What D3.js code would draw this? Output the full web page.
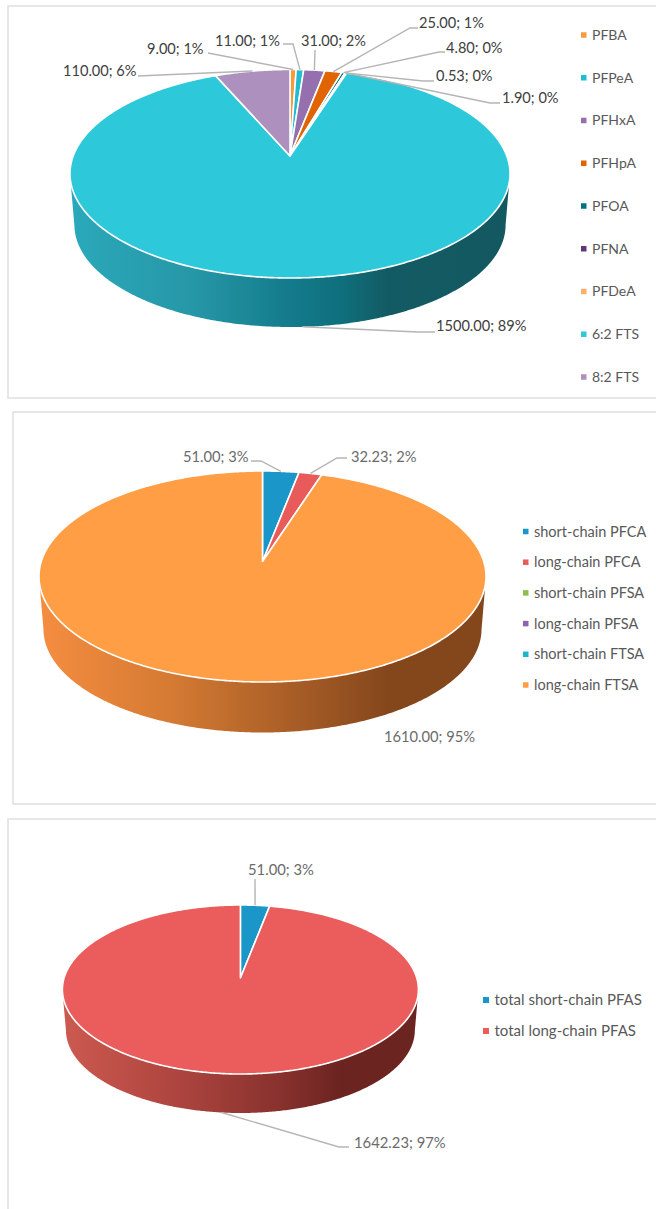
<!DOCTYPE html>
<html>
<head>
<meta charset="utf-8">
<script src="https://cdnjs.cloudflare.com/ajax/libs/d3/7.8.5/d3.min.js"></script>
<style>
    html, body { margin: 0; padding: 0; background: #fff; }
    svg { display: block; }
    text { font-family: Lato, "Open Sans", sans-serif; }
</style>
</head>
<body>
<div id="chart"></div>
<script>
// values
const compounds = ["PFBA", "PFPeA", "PFHxA", "PFHpA", "PFOA", "PFNA", "PFDeA", "6:2 FTS", "8:2 FTS"];
const compoundValues = [9, 11, 31, 25, 4.8, 0.53, 1.9, 1500, 110];
const groups = ["short-chain PFCA", "long-chain PFCA", "short-chain PFSA", "long-chain PFSA", "short-chain FTSA", "long-chain FTSA"];
const groupValues = [51, 32.23, 0, 0, 0, 1610];
const totals = ["total short-chain PFAS", "total long-chain PFAS"];
const totalValues = [51, 1642.23];

const compoundColors = ["#f79a3c", "#1fbcd2", "#9470ae", "#e06500", "#05707f", "#5c3a7a", "#ffb06e", "#2dc8da", "#ae90bf"];
const groupColors = ["#1b96c8", "#e95b5b", "#8fbc4b", "#8d63ae", "#1bb5cc", "#ff9e45"];
const totalColors = ["#1b96c8", "#eb5c5c"];

const width = 656, height = 1209;

// label text position + elbow of the leader line, by category
const charts = [
    {
        id: "a", names: compounds, values: compoundValues, colors: compoundColors,
        frame: {x: 8, y: 6, bottom: 398},
        cx: 290, rx: 220, top: 69.5, apex: 156, front: 278, lowerBottom: 327,
        rim: [[0, "#2aa9ba"], [0.28, "#2697a7"], [0.5, "#137b8b"], [0.62, "#0f6f7c"], [0.72, "#135b64"], [1, "#135860"]],
        labelColor: "#404040", labelSize: 14.6,
        labels: {
            "PFBA": {x: 147, y: 49, line: [[208, 53]]},
            "PFPeA": {x: 215, y: 41, line: [[293, 44], [283, 44]]},
            "PFHxA": {x: 301, y: 41, line: [[315, 50]]},
            "PFHpA": {x: 419, y: 23, line: [[410, 28], [418, 28]]},
            "PFOA": {x: 446, y: 48, line: [[439, 52], [445, 52]]},
            "PFNA": {x: 436, y: 76, line: [[423, 81], [434, 81]]},
            "PFDeA": {x: 502, y: 98, line: [[490, 103], [500, 103]]},
            "6:2 FTS": {x: 436, y: 326, line: [[418, 332], [435, 332]]},
            "8:2 FTS": {x: 63, y: 71, line: [[138, 76]]}
        },
        legend: {x: 581, y: 35, step: 42.75, size: 5.5, fontSize: 14}
    },
    {
        id: "b", names: groups, values: groupValues, colors: groupColors,
        frame: {x: 13, y: 412, bottom: 804},
        cx: 262.5, rx: 223.5, top: 471, apex: 561.5, front: 682, lowerBottom: 732.5,
        rim: [[0, "#f58d40"], [0.3, "#d47a33"], [0.6, "#a35a25"], [0.78, "#84471c"], [1, "#84471c"]],
        labelColor: "#6b6b6b", labelSize: 14.7,
        labels: {
            "short-chain PFCA": {x: 183, y: 457, line: [[261, 461], [251, 461]]},
            "long-chain PFCA": {x: 351, y: 457, line: [[337, 458], [347, 458]]},
            "long-chain FTSA": {x: 384, y: 737, line: null}
        },
        legend: {x: 523, y: 531.5, step: 30.7, size: 5.5, fontSize: 14.5}
    },
    {
        id: "c", names: totals, values: totalValues, colors: totalColors,
        frame: {x: 8, y: 819, bottom: null},
        cx: 240.4, rx: 178, top: 905, apex: 978, front: 1074, lowerBottom: 1113,
        rim: [[0, "#cc5a50"], [0.3, "#b04640"], [0.6, "#8a322e"], [0.78, "#6c2421"], [1, "#6c2421"]],
        labelColor: "#6b6b6b", labelSize: 14.8,
        labels: {
            "total short-chain PFAS": {x: 248, y: 870, line: [[255, 879]]},
            "total long-chain PFAS": {x: 354, y: 1143, line: [[339, 1147], [349, 1147]]}
        },
        legend: {x: 483, y: 1000, step: 31, size: 6, fontSize: 15}
    }
];

const svg = d3.select("#chart").append("svg")
    .attr("width", width)
    .attr("height", height);

const defs = svg.append("defs");

charts.forEach(drawChart);

function drawChart(c) {
    let g = svg.append("g").attr("class", "chart-" + c.id);

    // frame runs off the right side of the picture
    let right = width + 5,
        bottom = c.frame.bottom === null ? height + 5 : c.frame.bottom;
    g.append("rect")
        .attr("x", c.frame.x)
        .attr("y", c.frame.y)
        .attr("width", right - c.frame.x)
        .attr("height", bottom - c.frame.y)
        .attr("fill", "#fff")
        .attr("stroke", "#e2e2e2")
        .attr("stroke-width", 1.6);

    // circle seen in perspective: the centre of the pie sits above the middle of the ellipse
    let cy = (c.top + c.front) / 2,
        q = solvePerspective(c.top, c.apex, c.front);

    function project(angle) {
        let u = Math.sin(angle), v = -Math.cos(angle),
            w = 1 + q.c * v;
        return [c.cx + q.k(c.rx) * u / w, (q.a * v + c.apex) / w];
    }

    function lower(p) {
        let s = 0.98;
        return [c.cx + (p[0] - c.cx) * s, cy + (p[1] - cy) * s + (c.lowerBottom - c.front * s - cy * (1 - s))];
    }

    let total = d3.sum(c.values),
        arcs = d3.pie().sort(null).value(d => d)(c.values),
        color = d3.scaleOrdinal().domain(c.names).range(c.colors),
        line = d3.line();

    let gradId = "rim-" + c.id;
    let grad = defs.append("linearGradient")
        .attr("id", gradId)
        .attr("gradientUnits", "userSpaceOnUse")
        .attr("x1", c.cx - c.rx).attr("x2", c.cx + c.rx)
        .attr("y1", 0).attr("y2", 0);
    c.rim.forEach(s => grad.append("stop").attr("offset", s[0]).attr("stop-color", s[1]));

    function samples(d) {
        let n = Math.max(2, Math.ceil((d.endAngle - d.startAngle) * 120));
        return d3.range(n + 1).map(i => d.startAngle + (d.endAngle - d.startAngle) * i / n);
    }

    // side wall, only the front half shows
    arcs.filter(d => d.value > 0).forEach(d => {
        let pts = samples(d).map(project).filter(p => p[1] >= cy);
        if (pts.length < 2) return;
        let wall = pts.concat(pts.map(lower).reverse());
        g.append("path")
            .attr("d", line(wall) + "Z")
            .attr("fill", "url(#" + gradId + ")");
    });

    // top face
    g.selectAll(".slice")
        .data(arcs.filter(d => d.value > 0))
        .enter()
        .append("path")
        .attr("class", "slice")
        .attr("d", d => line([[c.cx, c.apex]].concat(samples(d).map(project))) + "Z")
        .attr("fill", d => color(c.names[d.index]))
        .attr("stroke", "#fff")
        .attr("stroke-width", 1.6)
        .attr("stroke-linejoin", "round");

    // data labels + leader lines
    arcs.filter(d => d.value > 0).forEach(d => {
        let name = c.names[d.index],
            lab = c.labels[name],
            mid = (d.startAngle + d.endAngle) / 2,
            start = project(mid);
        if (start[1] >= cy) start = lower(start);

        if (lab.line) {
            g.append("path")
                .attr("d", line([start].concat(lab.line)))
                .attr("fill", "none")
                .attr("stroke", "#b5b5b5")
                .attr("stroke-width", 1.4);
        }
        g.append("text")
            .attr("x", lab.x)
            .attr("y", lab.y)
            .attr("dy", "0.35em")
            .attr("font-size", c.labelSize)
            .attr("fill", c.labelColor)
            .text(d3.format(".2f")(d.value) + "; " + Math.round(d.value / total * 100) + "%");
    });

    // legend
    let legend = g.selectAll(".legend")
        .data(c.names)
        .enter()
        .append("g")
        .attr("class", "legend")
        .attr("transform", (d, i) => "translate(" + [c.legend.x, c.legend.y + i * c.legend.step] + ")");

    legend.append("rect")
        .attr("y", -c.legend.size / 2)
        .attr("width", c.legend.size)
        .attr("height", c.legend.size)
        .attr("fill", d => color(d));

    legend.append("text")
        .attr("x", c.legend.size + 5.5)
        .attr("dy", "0.35em")
        .attr("font-size", c.legend.fontSize)
        .attr("fill", "#595959")
        .text(d => d);
}

// y = (a*v + apex) / (c*v + 1), with v = -1 at the back edge and v = 1 at the front edge
function solvePerspective(top, apex, front) {
    let c = (2 * apex - top - front) / (front - top),
        a = front * (1 + c) - apex;
    return {a: a, c: c, k: rx => rx * Math.sqrt(1 - c * c)};
}
</script>
</body>
</html>
